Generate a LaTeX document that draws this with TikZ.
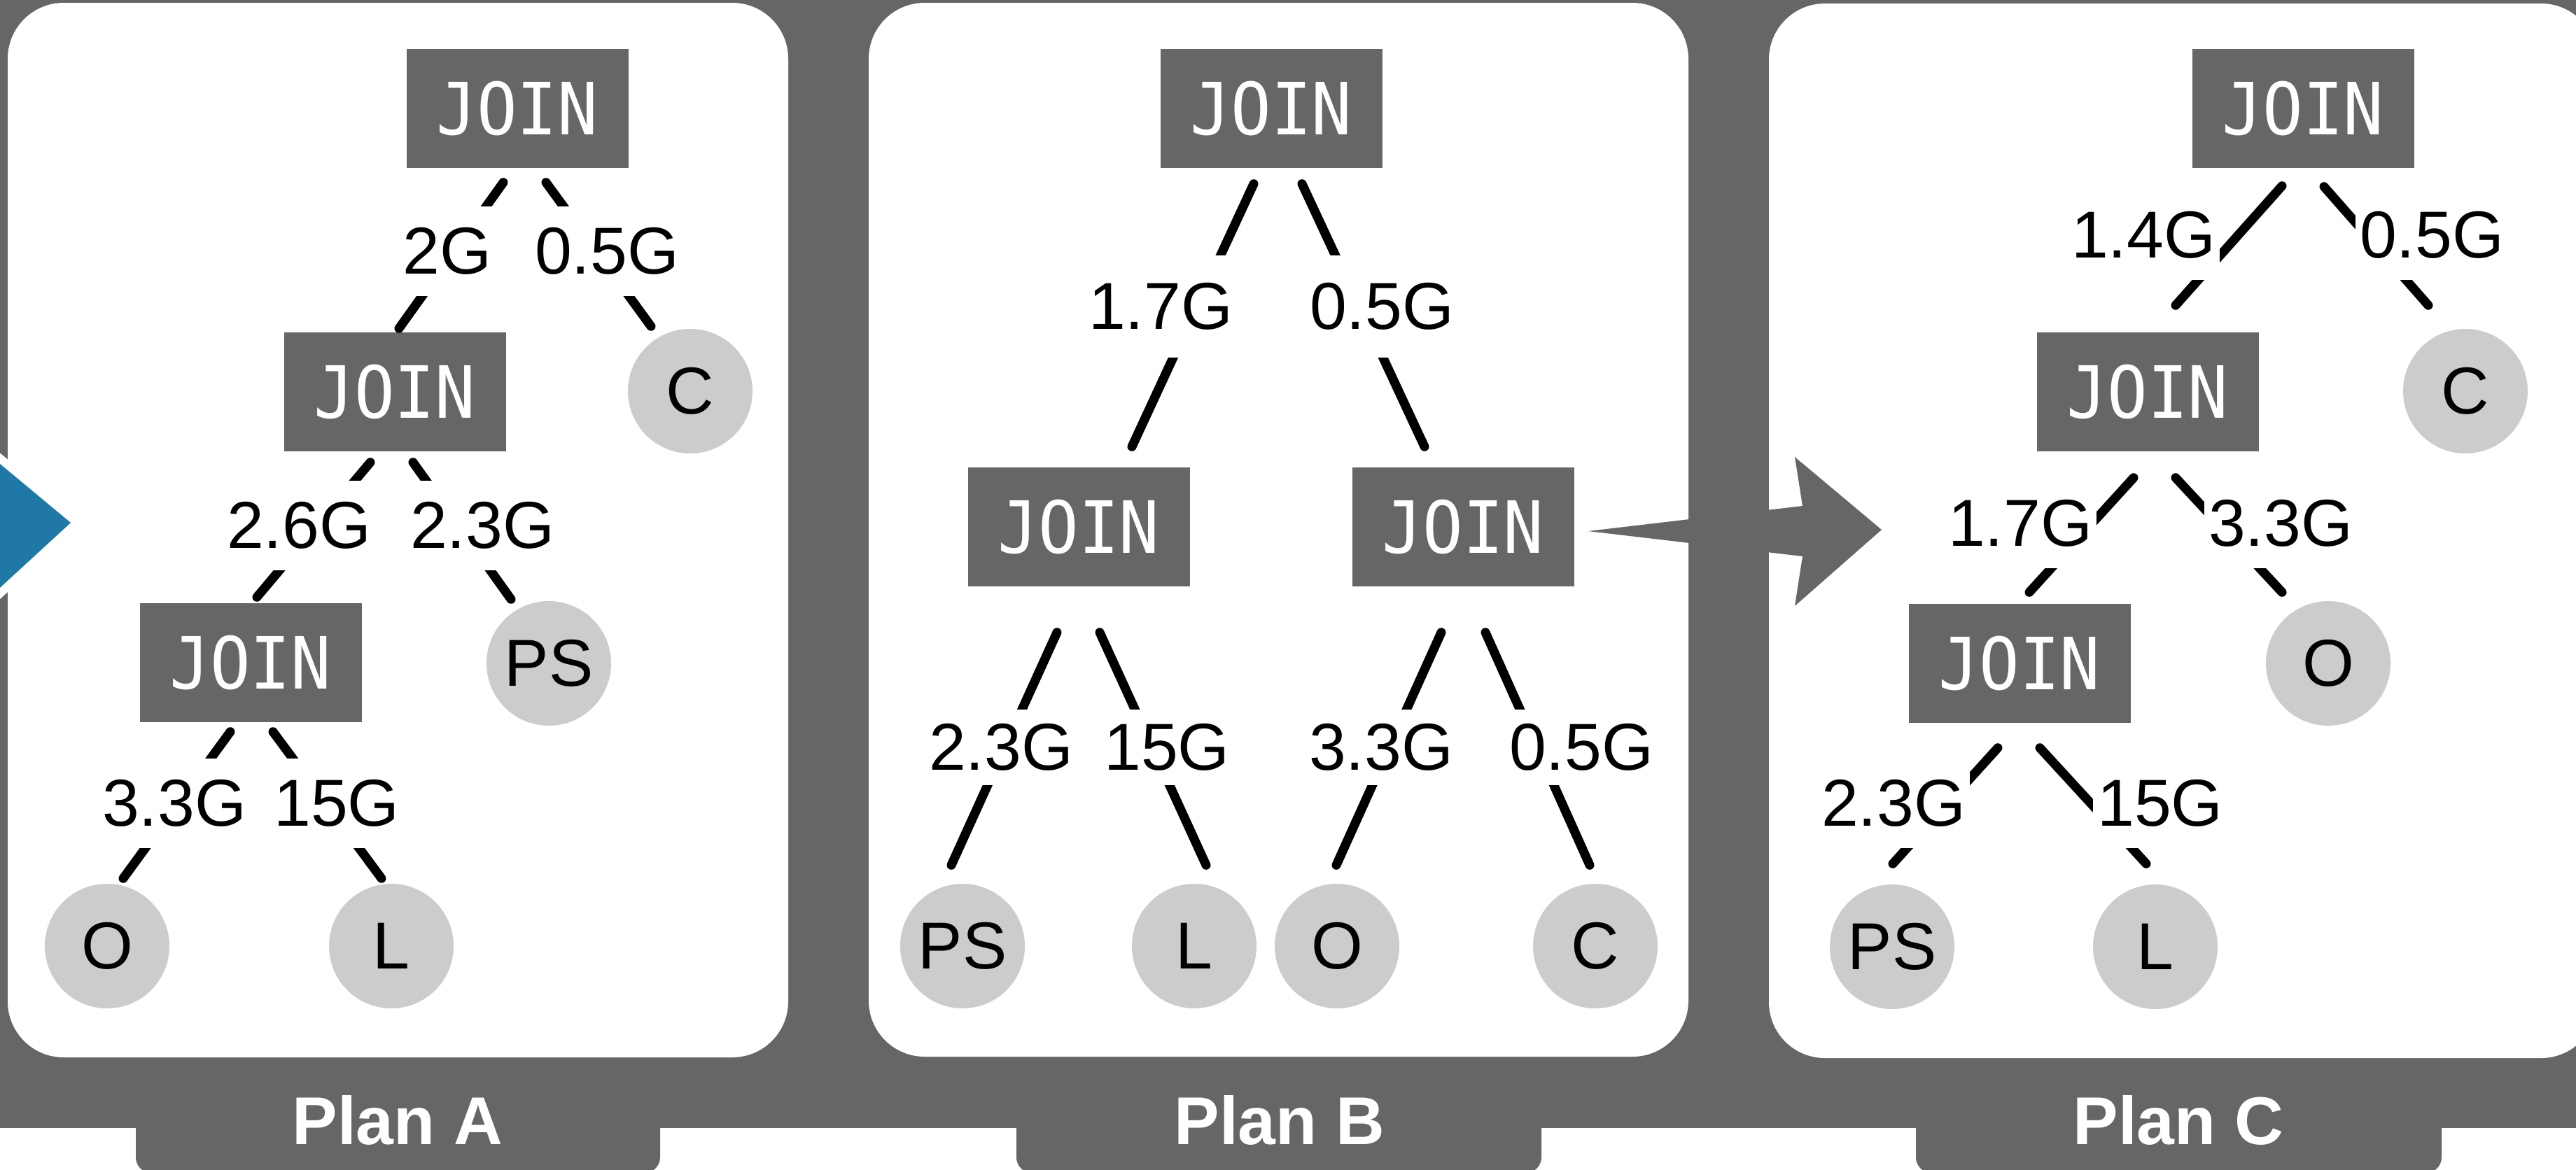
\documentclass[tikz,border=0pt]{standalone}
\usepackage{fontspec}
\setmainfont{Liberation Sans}
\newfontfamily\joinfont[FakeStretch=0.93]{DejaVu Sans Mono}

\definecolor{darkgray}{HTML}{666666}
\definecolor{leafgray}{HTML}{CCCCCC}
\definecolor{arrowblue}{RGB}{31,120,166}

\begin{document}
\begin{tikzpicture}[
    joinbox/.style={fill=darkgray, text=white, inner sep=0pt,
        minimum width=3.17cm, minimum height=1.70cm,
        font=\joinfont\fontsize{29.3}{34}\selectfont},
    leaf/.style={circle, fill=leafgray, inner sep=0pt, minimum size=1.78cm,
        font=\fontsize{27}{32}\selectfont},
    sizelabel/.style={fill=white, inner xsep=0.06cm, inner ysep=0.3cm,
        font=\fontsize{27}{32}\selectfont},
    link/.style={line width=0.13cm, line cap=round},
    planname/.style={text=white, font=\bfseries\fontsize{27.5}{32}\selectfont}]

    \useasboundingbox (0,0) rectangle (36.8,-16.71);

    % Background and tabs
    \fill[darkgray] (0,0) rectangle (36.8,-16.12);
    \fill[darkgray, rounded corners=0.22cm] (1.94,-15.5) rectangle (9.43,-16.76);
    \fill[darkgray, rounded corners=0.22cm] (14.52,-15.5) rectangle (22.02,-16.76);
    \fill[darkgray, rounded corners=0.22cm] (27.37,-15.5) rectangle (34.88,-16.76);

    % Panels
    \fill[white, rounded corners=0.8cm] (0.11,-0.04) rectangle (11.26,-15.11);
    \fill[white, rounded corners=0.8cm] (12.41,-0.04) rectangle (24.12,-15.10);
    \fill[white, rounded corners=0.8cm] (25.27,-0.05) rectangle (37.10,-15.12);

    % Arrows
    \draw[white, line width=0.24cm] (-0.6,-6.13) -- (1.01,-7.47) -- (-0.6,-8.95) -- cycle;
    \fill[arrowblue] (-0.6,-6.13) -- (1.01,-7.47) -- (-0.6,-8.95) -- cycle;
    \fill[darkgray] (22.69,-7.59) -- (25.75,-7.23) -- (25.64,-6.53) -- (26.88,-7.57)
        -- (25.64,-8.66) -- (25.75,-7.95) -- cycle;

    % Plan A
    \node[joinbox] (ja1) at (7.39,-1.55) {JOIN};
    \node[joinbox] (ja2) at (5.64,-5.60) {JOIN};
    \node[leaf] (ca) at (9.86,-5.59) {C};
    \node[joinbox] (ja3) at (3.58,-9.47) {JOIN};
    \node[leaf] (psa) at (7.84,-9.48) {PS};
    \node[leaf] (oa) at (1.53,-13.52) {O};
    \node[leaf] (la) at (5.59,-13.52) {L};

    \draw[link] ([shift={(-0.20,-0.20)}]ja1.south) -- ([shift={(0.06,0.05)}]ja2.north);
    \draw[link] ([shift={(0.41,-0.20)}]ja1.south) -- ([shift={(-0.56,0.03)}]ca.north);
    \draw[link] ([shift={(-0.35,-0.15)}]ja2.south) -- ([shift={(0.09,0.08)}]ja3.north);
    \draw[link] ([shift={(0.26,-0.15)}]ja2.south) -- ([shift={(-0.54,0.02)}]psa.north);
    \draw[link] ([shift={(-0.29,-0.13)}]ja3.south) -- ([shift={(0.23,0.07)}]oa.north);
    \draw[link] ([shift={(0.32,-0.13)}]ja3.south) -- ([shift={(-0.14,0.07)}]la.north);

    \node[sizelabel] (a12) at (6.39,-3.59) {2G};
    \node[sizelabel] (a1c) at (8.67,-3.59) {0.5G};
    \node[sizelabel] (a23) at (4.27,-7.51) {2.6G};
    \node[sizelabel] (a2p) at (6.89,-7.51) {2.3G};
    \node[sizelabel] (a3o) at (2.49,-11.48) {3.3G};
    \node[sizelabel] (a3l) at (4.81,-11.48) {15G};

    % Plan B
    \node[joinbox] (jb1) at (18.16,-1.55) {JOIN};
    \node[joinbox] (jb2) at (15.41,-7.53) {JOIN};
    \node[joinbox] (jb3) at (20.90,-7.53) {JOIN};
    \node[leaf] (psb) at (13.75,-13.52) {PS};
    \node[leaf] (lb) at (17.06,-13.52) {L};
    \node[leaf] (ob) at (19.10,-13.52) {O};
    \node[leaf] (cb) at (22.79,-13.52) {C};

    \draw[link] ([shift={(-0.25,-0.22)}]jb1.south) -- ([shift={(0.76,0.29)}]jb2.north);
    \draw[link] ([shift={(0.44,-0.22)}]jb1.south) -- ([shift={(-0.55,0.29)}]jb3.north);
    \draw[link] ([shift={(-0.31,-0.65)}]jb2.south) -- ([shift={(-0.16,0.26)}]psb.north);
    \draw[link] ([shift={(0.30,-0.65)}]jb2.south) -- ([shift={(0.17,0.26)}]lb.north);
    \draw[link] ([shift={(-0.31,-0.65)}]jb3.south) -- ([shift={(-0.01,0.26)}]ob.north);
    \draw[link] ([shift={(0.32,-0.65)}]jb3.south) -- ([shift={(-0.08,0.26)}]cb.north);

    \node[sizelabel, inner ysep=0.39cm] (b12) at (16.58,-4.38) {1.7G};
    \node[sizelabel, inner ysep=0.39cm] (b13) at (19.74,-4.38) {0.5G};
    \node[sizelabel, inner ysep=0.2cm] (b2p) at (14.30,-10.68) {2.3G};
    \node[sizelabel, inner ysep=0.2cm] (b2l) at (16.67,-10.68) {15G};
    \node[sizelabel, inner ysep=0.2cm] (b3o) at (19.73,-10.68) {3.3G};
    \node[sizelabel, inner ysep=0.2cm] (b3c) at (22.59,-10.68) {0.5G};

    % Plan C
    \node[joinbox] (jc1) at (32.90,-1.55) {JOIN};
    \node[joinbox] (jc2) at (30.68,-5.60) {JOIN};
    \node[leaf] (cc) at (35.22,-5.59) {C};
    \node[joinbox] (jc3) at (28.85,-9.48) {JOIN};
    \node[leaf] (oc) at (33.26,-9.48) {O};
    \node[leaf] (psc) at (27.03,-13.53) {PS};
    \node[leaf] (lc) at (30.79,-13.53) {L};

    \draw[link] ([shift={(-0.30,-0.25)}]jc1.south) -- ([shift={(0.40,0.38)}]jc2.north);
    \draw[link] ([shift={(0.30,-0.26)}]jc1.south) -- ([shift={(-0.53,0.33)}]cc.north);
    \draw[link] ([shift={(-0.20,-0.37)}]jc2.south) -- ([shift={(0.14,0.16)}]jc3.north);
    \draw[link] ([shift={(0.40,-0.37)}]jc2.south) -- ([shift={(-0.66,0.12)}]oc.north);
    \draw[link] ([shift={(-0.31,-0.35)}]jc3.south) -- ([shift={(0.01,0.29)}]psc.north);
    \draw[link] ([shift={(0.29,-0.35)}]jc3.south) -- ([shift={(-0.13,0.29)}]lc.north);

    \node[sizelabel] (c12) at (30.62,-3.36) {1.4G};
    \node[sizelabel] (c1c) at (34.74,-3.36) {0.5G};
    \node[sizelabel] (c23) at (28.86,-7.48) {1.7G};
    \node[sizelabel] (c2o) at (32.58,-7.48) {3.3G};
    \node[sizelabel] (c3p) at (27.05,-11.48) {2.3G};
    \node[sizelabel] (c3l) at (30.86,-11.48) {15G};

    % Plan names
    \node[planname] (pa) at (5.68,-16.01) {Plan A};
    \node[planname] (pb) at (18.28,-16.01) {Plan B};
    \node[planname] (pc) at (31.12,-16.01) {Plan C};
\end{tikzpicture}
\end{document}
